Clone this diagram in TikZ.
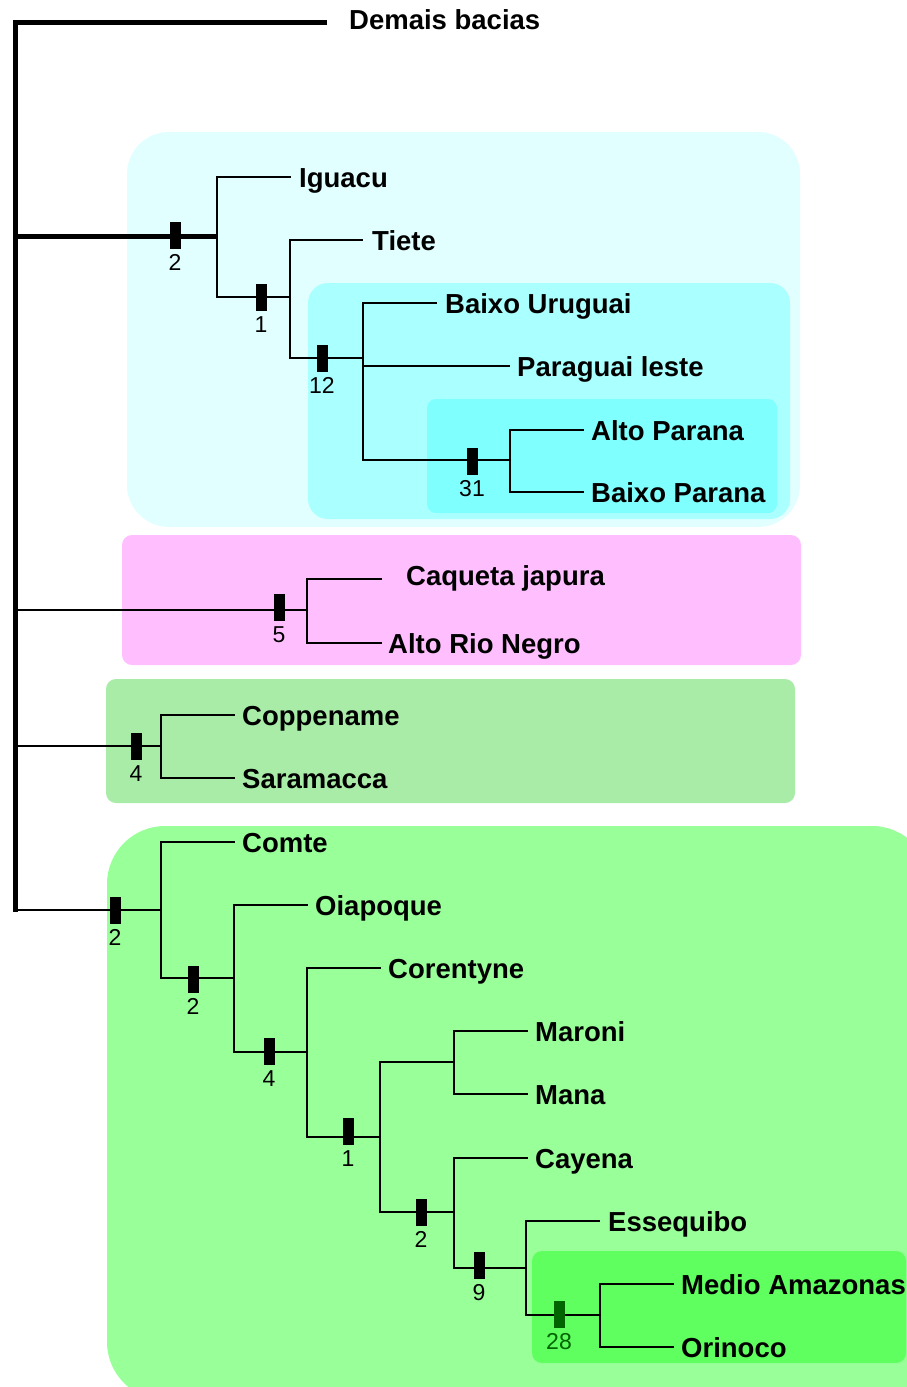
\documentclass[tikz,border=0pt]{standalone}
\usepackage{fontspec}
\setmainfont{Liberation Sans}
\definecolor{cyanA}{RGB}{225,255,255}
\definecolor{cyanB}{RGB}{170,255,255}
\definecolor{cyanC}{RGB}{128,255,255}
\definecolor{pinkA}{RGB}{255,191,255}
\definecolor{sageA}{RGB}{168,236,168}
\definecolor{greenA}{RGB}{153,255,153}
\definecolor{greenB}{RGB}{94,255,94}
\definecolor{greenD}{RGB}{0,100,0}
\tikzset{
  br/.style={line width=1.8pt, line cap=rect},
  tk/.style={line width=5pt, line cap=butt, line join=miter},
  leaf/.style={anchor=base west, inner sep=0pt, font=\bfseries\fontsize{27.5}{30}\selectfont},
  barbox/.style={fill=black, minimum width=11pt, minimum height=27pt, inner sep=0pt},
  numlbl/.style={anchor=base, inner sep=0pt, font=\fontsize{23}{25}\selectfont}
}
\newcommand\brk[5][black]{%
  \node[barbox, fill=#1] (#2) at (#3,#4) {};
  \path (#2.center) ++(0,35) node[numlbl, text=#1] (#2-l) {#5};}
\begin{document}
\begin{tikzpicture}[x=1pt, y=-1pt]
\useasboundingbox (0,0) rectangle (907,1387);
\begin{scope}
\clip (0,0) rectangle (907,1387);
% background groups
\fill[cyanA, rounded corners=42pt] (127,132) rectangle (800,527);
\fill[cyanB, rounded corners=20pt] (308,283) rectangle (790,519);
\fill[cyanC, rounded corners=9pt] (427,399) rectangle (777,513);
\fill[pinkA, rounded corners=10pt] (122,535) rectangle (801,665);
\fill[sageA, rounded corners=10pt] (106,679) rectangle (795,803);
\fill[greenA, rounded corners=58pt] (107,826) rectangle (930,1400);
\fill[greenB, rounded corners=10pt] (532,1251) rectangle (906,1363);
\end{scope}

% coordinates
\coordinate (top) at (15,22);
\coordinate (dem) at (327,22);
\coordinate (bot) at (15,912);
\coordinate (t1) at (15,236);
\coordinate (t2) at (15,610);
\coordinate (t3) at (15,746);
\coordinate (t4) at (15,910);
\coordinate (n1) at (217,236);
\coordinate (ig) at (290,177);
\coordinate (n2) at (290,297);
\coordinate (ti) at (362,240);
\coordinate (n3) at (363,358);
\coordinate (bu) at (436,303);
\coordinate (pl) at (509,366);
\coordinate (n4) at (510,460);
\coordinate (ap) at (583,430);
\coordinate (bp) at (583,492);
\coordinate (n5) at (307,610);
\coordinate (cj) at (381,579);
\coordinate (ar) at (381,643);
\coordinate (n6) at (161,746);
\coordinate (co) at (234,715);
\coordinate (sa) at (234,778);
\coordinate (n7) at (161,910);
\coordinate (cm) at (234,842);
\coordinate (n8) at (234,978);
\coordinate (oi) at (307,905);
\coordinate (n9) at (307,1052);
\coordinate (ce) at (380,968);
\coordinate (n10) at (380,1137);
\coordinate (n11) at (454,1062);
\coordinate (mr) at (527,1031);
\coordinate (mn) at (527,1094);
\coordinate (n12) at (454,1212);
\coordinate (cy) at (527,1158);
\coordinate (n13) at (526,1268);
\coordinate (es) at (599,1221);
\coordinate (n14) at (600,1315);
\coordinate (ma) at (673,1284);
\coordinate (or) at (673,1347);

% thick backbone
\draw[tk] (dem) -- (top) -- (bot);
\draw[tk] (t1) -- (n1);
% thin branches
\draw[br] (t2) -- (n5);
\draw[br] (t3) -- (n6);
\draw[br] (t4) -- (n7);
\draw[br] (n1) |- (ig);
\draw[br] (n1) |- (n2);
\draw[br] (n2) |- (ti);
\draw[br] (n2) |- (n3);
\draw[br] (n3) |- (bu);
\draw[br] (n3) |- (n4);
\draw[br] (n3 |- pl) -- (pl);
\draw[br] (n4) |- (ap);
\draw[br] (n4) |- (bp);
\draw[br] (n5) |- (cj);
\draw[br] (n5) |- (ar);
\draw[br] (n6) |- (co);
\draw[br] (n6) |- (sa);
\draw[br] (n7) |- (cm);
\draw[br] (n7) |- (n8);
\draw[br] (n8) |- (oi);
\draw[br] (n8) |- (n9);
\draw[br] (n9) |- (ce);
\draw[br] (n9) |- (n10);
\draw[br] (n10) |- (n11);
\draw[br] (n10) |- (n12);
\draw[br] (n11) |- (mr);
\draw[br] (n11) |- (mn);
\draw[br] (n12) |- (cy);
\draw[br] (n12) |- (n13);
\draw[br] (n13) |- (es);
\draw[br] (n13) |- (n14);
\draw[br] (n14) |- (ma);
\draw[br] (n14) |- (or);

% bars with support values
\brk{b1}{175}{235}{2}
\brk{b2}{261}{297}{1}
\brk{b3}{322}{358}{12}
\brk{b4}{472}{461}{31}
\brk{b5}{279}{607}{5}
\brk{b6}{136}{746}{4}
\brk{b7}{115}{910}{2}
\brk{b8}{193}{979}{2}
\brk{b9}{269}{1051}{4}
\brk{b10}{348}{1131}{1}
\brk{b11}{421}{1212}{2}
\brk{b12}{479}{1265}{9}
\brk[greenD]{b13}{559}{1314}{28}

% leaf labels
\node[leaf] (Ldem) at (349,29) {Demais bacias};
\node[leaf] (Lig) at (299,187) {Iguacu};
\node[leaf] (Lti) at (372,250) {Tiete};
\node[leaf] (Lbu) at (445,313) {Baixo Uruguai};
\node[leaf] (Lpl) at (517,376) {Paraguai leste};
\node[leaf] (Lap) at (591,440) {Alto Parana};
\node[leaf] (Lbp) at (591,502) {Baixo Parana};
\node[leaf] (Lcj) at (406,585) {Caqueta japura};
\node[leaf] (Lar) at (388,653) {Alto Rio Negro};
\node[leaf] (Lco) at (242,725) {Coppename};
\node[leaf] (Lsa) at (242,788) {Saramacca};
\node[leaf] (Lcm) at (242,852) {Comte};
\node[leaf] (Loi) at (315,915) {Oiapoque};
\node[leaf] (Lce) at (388,978) {Corentyne};
\node[leaf] (Lmr) at (535,1041) {Maroni};
\node[leaf] (Lmn) at (535,1104) {Mana};
\node[leaf] (Lcy) at (535,1168) {Cayena};
\node[leaf] (Les) at (608,1231) {Essequibo};
\node[leaf] (Lma) at (681,1294) {Medio Amazonas};
\node[leaf] (Lor) at (681,1357) {Orinoco};
\end{tikzpicture}
\end{document}
